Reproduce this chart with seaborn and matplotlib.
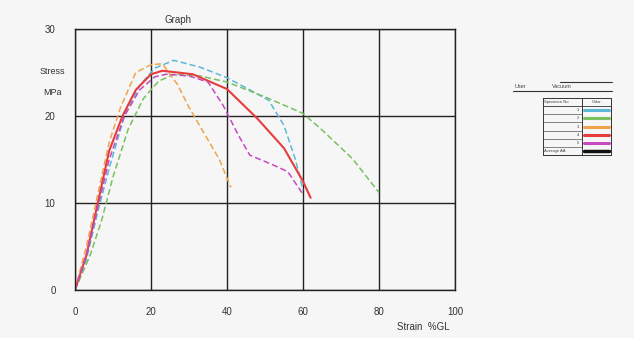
import numpy as np
import pandas as pd
import matplotlib.pyplot as plt
import seaborn as sns

# strain (%GL) and stress (MPa)
strain_1 = [0, 3, 6, 9, 13, 17, 21, 26, 33, 40, 46, 51, 55, 58, 60]
stress_1 = [0, 3.5, 9, 14, 20, 23.5, 25.5, 26.4, 25.6, 24.4, 23.0, 21.8, 18.9, 15.0, 11.5]

strain_2 = [0, 4, 7, 10, 14, 18, 22, 26, 33, 40, 50, 60, 65, 73, 80]
stress_2 = [0, 4, 8, 13, 18.5, 22, 24, 24.8, 24.6, 23.9, 22.2, 20.3, 18.4, 15.1, 11.2]

strain_3 = [0, 3, 6, 9, 12, 16, 20, 23, 27, 30, 34, 38, 41]
stress_3 = [0, 5, 11, 17, 21, 25, 25.9, 26.0, 23.6, 21.0, 18.0, 15.0, 11.8]

strain_4 = [0, 3, 6, 9, 12.5, 16, 20, 23, 31, 40, 48, 55, 60, 62]
stress_4 = [0, 4, 10, 16, 20, 23, 24.8, 25.2, 24.8, 23.1, 19.7, 16.3, 12.5, 10.6]

strain_5 = [0, 3, 6, 9, 13, 17, 21, 24, 30, 35, 39, 43, 46, 52, 56, 60]
stress_5 = [0, 4, 9.5, 15, 20, 23, 24.5, 24.8, 24.6, 23.9, 21.2, 17.8, 15.5, 14.4, 13.6, 11.0]

specimens = ["1", "2", "3", "4", "5"]
colors = ["#5cb8d6", "#78c060", "#f0a44a", "#e63c3c", "#c848c0"]
strains = [strain_1, strain_2, strain_3, strain_4, strain_5]
stresses = [stress_1, stress_2, stress_3, stress_4, stress_5]

x_ticks = [0, 20, 40, 60, 80, 100]
x_tick_labels = ["0", "20", "40", "60", "80", "100"]
y_ticks = [0, 10, 20, 30]

sns.set_style("white")
plt.rcParams['font.family'] = ['Liberation Sans', 'DejaVu Sans']

fig = plt.figure(figsize=(6.34, 3.38), dpi=100, facecolor="#f6f6f6")
ax = fig.add_axes([75 / 634, 1 - 290 / 338, 380 / 634, 261 / 338])
ax.set_facecolor("#f6f6f6")

for name, col, sx, sy in zip(specimens, colors, strains, stresses):
    df = pd.DataFrame({"Strain": sx, "Stress": sy})
    ls = "-" if name == "4" else (0, (4, 2))
    lw = 1.5 if name == "4" else 1.1
    sns.lineplot(data=df, x="Strain", y="Stress", sort=False, color=col,
                 linestyle=ls, linewidth=lw, ax=ax)

ax.set_xlim(0, 100)
ax.set_ylim(0, 30)
ax.set_xticks(x_ticks)
ax.set_xticklabels(x_tick_labels)
ax.set_yticks(y_ticks)
ax.tick_params(length=0, labelsize=7, labelcolor="#333333")
ax.tick_params(axis="x", pad=12)
ax.tick_params(axis="y", pad=14)
ax.grid(True, color="#222222", linewidth=1.0)
for s in ax.spines.values():
    s.set_color("#222222")
    s.set_linewidth(1.0)
ax.set_xlabel("")
ax.set_ylabel("")

fig.text(178 / 634, 1 - 20 / 338, "Graph", fontsize=7, color="#333333",
         ha="center", va="center")
fig.text(52 / 634, 1 - 71 / 338, "Stress", fontsize=6.5, color="#333333",
         ha="center", va="center")
fig.text(52 / 634, 1 - 92 / 338, "MPa", fontsize=6.5, color="#333333",
         ha="center", va="center")
fig.text(423 / 634, 1 - 327 / 338, "Strain  %GL", fontsize=7, color="#333333",
         ha="center", va="center")

# legend table on the right
lg = fig.add_axes([513 / 634, 1 - 156 / 338, 100 / 634, 78 / 338])
lg.set_xlim(513, 613)
lg.set_ylim(156, 78)
lg.axis("off")
lg.plot([560, 612], [82, 82], color="#333333", lw=0.8)
lg.plot([513, 612], [91, 91], color="#333333", lw=0.8)
lg.text(515, 86.5, "User", fontsize=4, color="#444444", va="center")
lg.text(552, 86.5, "Vacuum", fontsize=4, color="#444444", va="center")

top, bot = 98, 155
left, mid, right = 543, 582, 611
lg.plot([left, right, right, left, left], [top, top, bot, bot, top], color="#333333", lw=0.7)
lg.plot([mid, mid], [top, bot], color="#333333", lw=0.7)
row_h = (bot - top) / 7
lg.plot([left, right], [top + row_h, top + row_h], color="#333333", lw=0.6)
lg.text(left + 1.5, top + row_h / 2, "Specimen No", fontsize=3, color="#444444", va="center")
lg.text((mid + right) / 2, top + row_h / 2, "Color", fontsize=3, color="#444444",
        va="center", ha="center")
row_names = specimens + ["Average AA"]
row_colors = colors + ["#111111"]
for i, (nm, col) in enumerate(zip(row_names, row_colors)):
    yc = top + row_h * (i + 1.5)
    if i < 5:
        lg.text(mid - 3, yc, nm, fontsize=3, color="#444444", va="center", ha="right")
        lg.plot([mid + 2, right - 2], [yc, yc], color=col, lw=2.2)
    else:
        lg.text(left + 1.5, yc, nm, fontsize=3, color="#444444", va="center")
        lg.plot([mid + 2, right - 2], [yc, yc], color=col, lw=2.5)
    if i < 5:
        lg.plot([left, mid], [yc + row_h / 2, yc + row_h / 2], color="#555555", lw=0.5)

fig.savefig("out.png", dpi=100, facecolor=fig.get_facecolor())
